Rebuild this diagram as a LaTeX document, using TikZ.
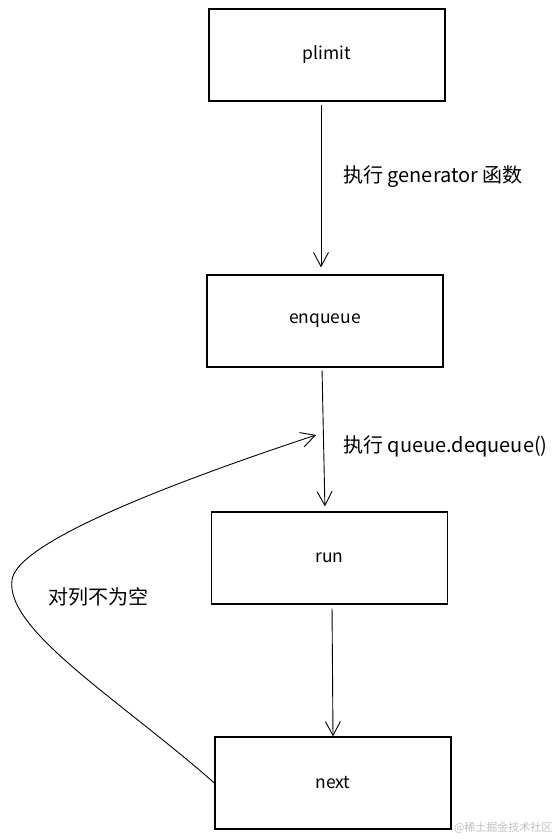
\documentclass[tikz,border=0pt]{standalone}
\usepackage{fontspec}
\setmainfont{Noto Sans CJK SC}
\usetikzlibrary{arrows.meta}

\begin{document}
\begin{tikzpicture}[x=1pt,y=-1pt,
  box/.style={draw,line width=1.2pt,minimum width=236pt,minimum height=92pt,
    font=\fontsize{17.5}{20}\selectfont},
  flow/.style={-{Straight Barb[length=14pt,width=15pt]},line width=0.9pt},
  note/.style={anchor=west,inner sep=0pt,font=\fontsize{20}{23}\selectfont}]
  \useasboundingbox (0,0) rectangle (559,839);

  \node[box] (plimit) at (327,55) {plimit};
  \node[box] (enqueue) at (325,321) {enqueue};
  \node[box] (run) at (329.5,558) {run};
  \node[box] (next) at (333,783) {next};

  \draw[flow,shorten <=3pt,shorten >=7pt] ([xshift=-6pt]plimit.south) -- ([xshift=-4pt]enqueue.north);
  \draw[flow,shorten <=3pt,shorten >=5pt] ([xshift=-3pt]enqueue.south) -- ([xshift=-4.5pt]run.north);
  \draw[flow,shorten <=4pt] ([xshift=2.5pt]run.south) -- (next.north);

  \coordinate (loop) at (316,435);
  \draw[flow] (next.west) .. controls (120,700) and (5,630) .. (12,580)
    .. controls (16,545) and (150,490) .. (loop);

  \node[note] (lblgen) at (343,177) {执行 generator 函数};
  \node[note] (lbldeq) at (343,446) {执行 queue.dequeue()};
  \node[note] (lblloop) at (48,597) {对列不为空};

  \node[anchor=east,text=gray!50,font=\fontsize{11}{13}\selectfont] (mark) at (556,828) {@稀土掘金技术社区};
\end{tikzpicture}
\end{document}
